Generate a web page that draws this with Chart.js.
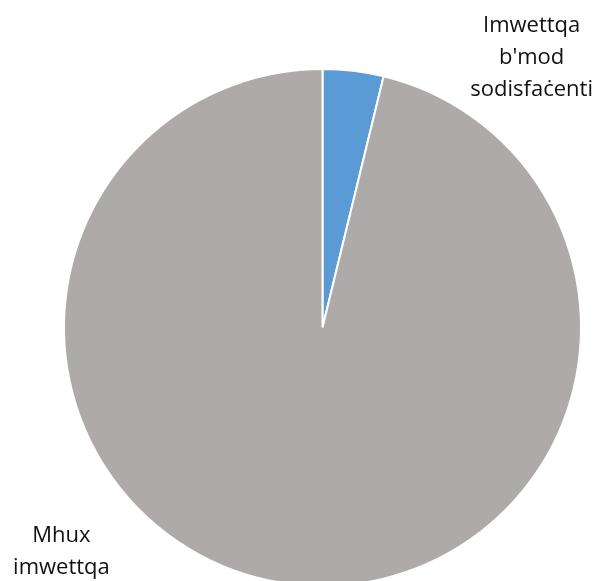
<!DOCTYPE html>
<html>
<head>
<meta charset="utf-8">
<script src="https://cdn.jsdelivr.net/npm/chart.js@4.4.0/dist/chart.umd.min.js"></script>
<style>
  html, body { margin: 0; padding: 0; background: #fff; overflow: hidden; }
  #wrap { width: 596px; height: 581px; overflow: hidden; }
</style>
</head>
<body>
<div id="wrap"><canvas id="pieChart" width="596" height="600"></canvas></div>
<script>
// data
var categories = ["Imwettqa b'mod sodisfaċenti", "Mhux imwettqa"];
var labelLines = [["Imwettqa", "b'mod", "sodisfaċenti"], ["Mhux", "imwettqa"]];
var shares = [3.8, 96.2];
var colours = ['#5B9BD5', '#AEAAAA'];

// where the labels sit, as angle (deg, clockwise from top) and distance in radii
var labelAngle = [37.8, 229.4];
var labelDist = [1.32, 1.33];

var outsideLabels = {
    id: 'outsideLabels',
    afterDatasetsDraw: function (chart) {
        var ctx = chart.ctx;
        var arcs = chart.getDatasetMeta(0).data;
        ctx.save();
        ctx.fillStyle = '#111';
        ctx.font = '22px "Open Sans", sans-serif';
        ctx.textAlign = 'center';
        ctx.textBaseline = 'middle';
        var lineH = 32;
        arcs.forEach(function (arc, i) {
            var a = labelAngle[i] * Math.PI / 180;
            var r = arc.outerRadius * labelDist[i];
            var cx = arc.x + r * Math.sin(a);
            var cy = arc.y - r * Math.cos(a);
            var lines = labelLines[i];
            var top = cy - (lines.length - 1) * lineH / 2;
            lines.forEach(function (t, j) {
                ctx.fillText(t, cx, top + j * lineH);
            });
        });
        ctx.restore();
    }
};

var ctx = document.getElementById('pieChart').getContext('2d');
var myChart = new Chart(ctx, {
    type: 'pie',
    data: {
        labels: categories,
        datasets: [{
            data: shares,
            backgroundColor: colours,
            borderColor: '#ffffff',
            borderWidth: 2
        }]
    },
    options: {
        responsive: false,
        animation: false,
        layout: { padding: { top: 68, bottom: 13, left: 63, right: 14 } },
        plugins: {
            legend: { display: false },
            tooltip: { enabled: false }
        }
    },
    plugins: [outsideLabels]
});
</script>
</body>
</html>
